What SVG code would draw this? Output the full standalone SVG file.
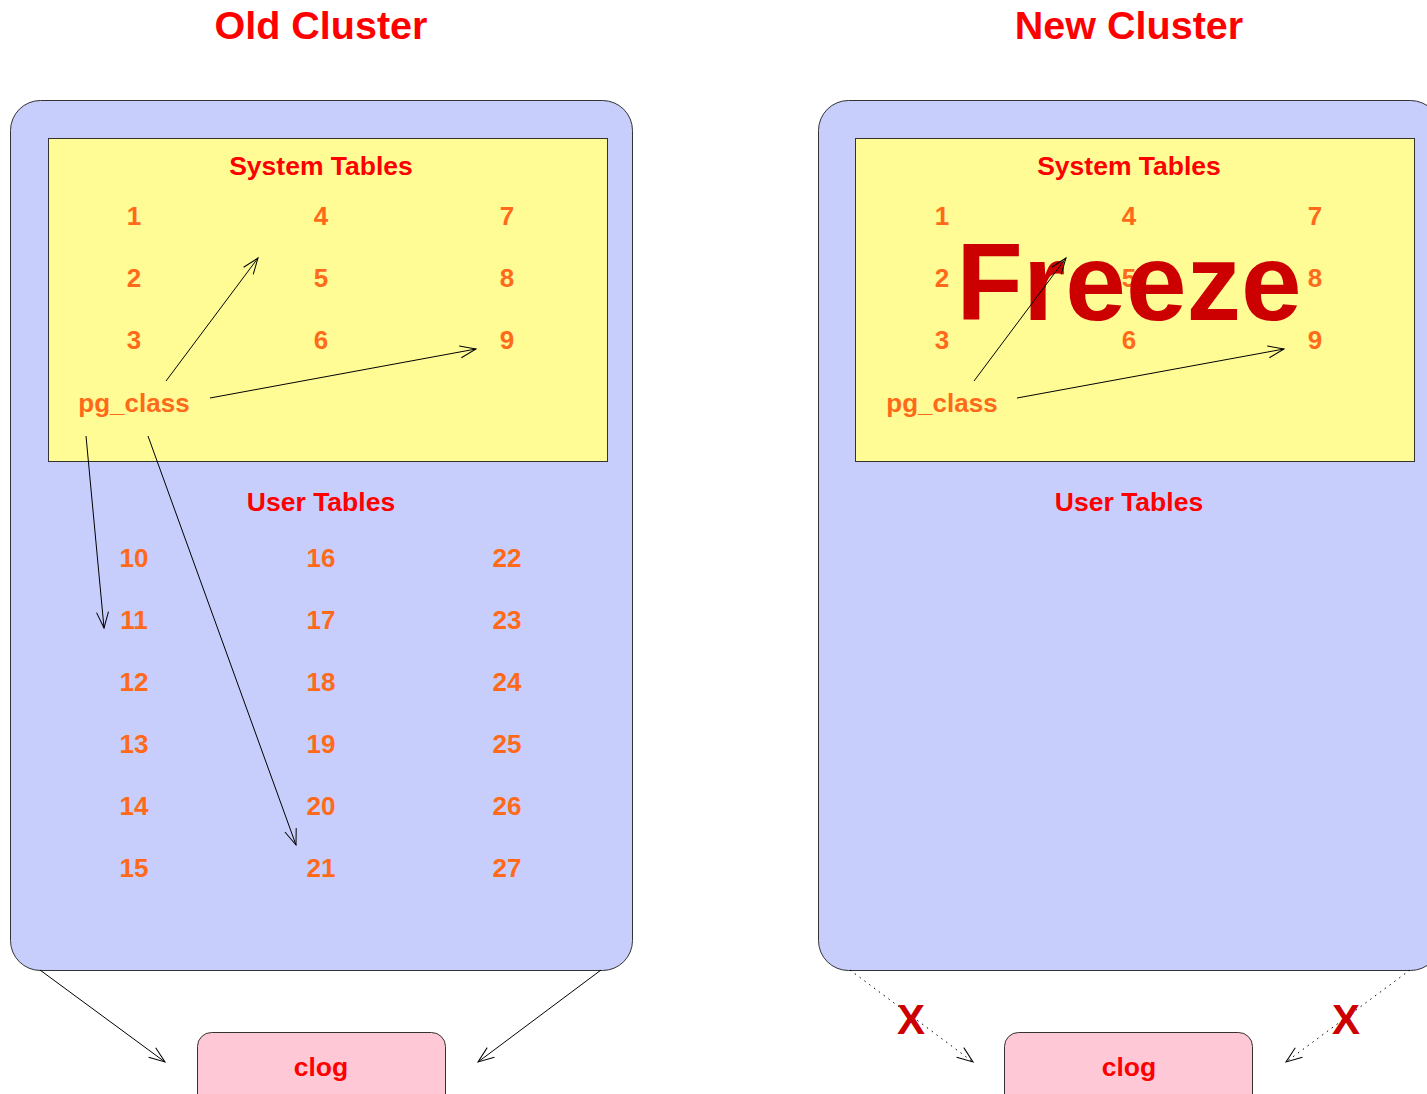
<svg xmlns="http://www.w3.org/2000/svg" width="1427" height="1094" viewBox="0 0 1427 1094">
<style>
text{font-family:"Liberation Sans",Arial,sans-serif;font-weight:bold;text-anchor:middle}
.title{font-size:39.5px;fill:#ff0000}
.hdr{font-size:26.5px;fill:#ff0000}
.num{font-size:26px;fill:#ff6a1a}
.cl{fill:#c8cefc;stroke:#333;stroke-width:1}
.sys{fill:#fffc96;stroke:#333;stroke-width:1}
.clog{fill:#ffc8d6;stroke:#333;stroke-width:1}
.con{stroke:#000;stroke-width:1;fill:none;marker-end:url(#ah)}
.dot{stroke-dasharray:1.5 4.5}
.big{fill:#cc0000}
</style>
<defs>
<marker id="ah" markerWidth="20" markerHeight="14" refX="18" refY="7" orient="auto" markerUnits="userSpaceOnUse">
<path d="M2,1 L18,7 L2,13" fill="none" stroke="#000" stroke-width="1" stroke-dasharray="none"/>
</marker>
</defs>
<g id="old-cluster">
<text class="title" x="321" y="39">Old Cluster</text>
<rect class="cl" x="10.5" y="100.5" width="622" height="870" rx="30"/>
<rect class="sys" x="48.5" y="138.5" width="559" height="323"/>
<text class="hdr" x="321" y="175">System Tables</text>
<text class="num" x="134" y="225">1</text><text class="num" x="321" y="225">4</text><text class="num" x="507" y="225">7</text>
<text class="num" x="134" y="287">2</text><text class="num" x="321" y="287">5</text><text class="num" x="507" y="287">8</text>
<text class="num" x="134" y="349">3</text><text class="num" x="321" y="349">6</text><text class="num" x="507" y="349">9</text>
<text class="num" x="134" y="412">pg_class</text>
<text class="hdr" x="321" y="511">User Tables</text>
<text class="num" x="134" y="567">10</text><text class="num" x="321" y="567">16</text><text class="num" x="507" y="567">22</text>
<text class="num" x="134" y="629">11</text><text class="num" x="321" y="629">17</text><text class="num" x="507" y="629">23</text>
<text class="num" x="134" y="691">12</text><text class="num" x="321" y="691">18</text><text class="num" x="507" y="691">24</text>
<text class="num" x="134" y="753">13</text><text class="num" x="321" y="753">19</text><text class="num" x="507" y="753">25</text>
<text class="num" x="134" y="815">14</text><text class="num" x="321" y="815">20</text><text class="num" x="507" y="815">26</text>
<text class="num" x="134" y="877">15</text><text class="num" x="321" y="877">21</text><text class="num" x="507" y="877">27</text>
</g>
<g id="old-clog">
<rect class="clog" x="197.5" y="1032.5" width="248" height="80" rx="14"/>
<text class="hdr" x="321" y="1076">clog</text>
</g>
<g id="new-cluster">
<text class="title" x="1129" y="39">New Cluster</text>
<rect class="cl" x="818.5" y="100.5" width="622" height="870" rx="30"/>
<rect class="sys" x="855.5" y="138.5" width="559" height="323"/>
<text class="hdr" x="1129" y="175">System Tables</text>
<text class="num" x="942" y="225">1</text><text class="num" x="1129" y="225">4</text><text class="num" x="1315" y="225">7</text>
<text class="num" x="942" y="287">2</text><text class="num" x="1129" y="287">5</text><text class="num" x="1315" y="287">8</text>
<text class="num" x="942" y="349">3</text><text class="num" x="1129" y="349">6</text><text class="num" x="1315" y="349">9</text>
<text class="num" x="942" y="412">pg_class</text>
<text class="hdr" x="1129" y="511">User Tables</text>
<text class="big" x="1129" y="320" style="font-size:109px">Freeze</text>
</g>
<g id="new-clog">
<rect class="clog" x="1004.5" y="1032.5" width="248" height="80" rx="14"/>
<text class="hdr" x="1129" y="1076">clog</text>
</g>
<g id="connectors">
<line class="con" x1="166" y1="381" x2="258" y2="258"/>
<line class="con" x1="210" y1="398" x2="476" y2="349"/>
<line class="con" x1="86" y1="436" x2="104" y2="628"/>
<line class="con" x1="148" y1="436" x2="296" y2="845"/>
<line class="con" x1="40" y1="970" x2="165" y2="1062"/>
<line class="con" x1="601" y1="970" x2="478" y2="1062"/>
<line class="con" x1="974" y1="381" x2="1066" y2="258"/>
<line class="con" x1="1017" y1="398" x2="1284" y2="349"/>
<line class="con dot" x1="850" y1="970" x2="973" y2="1062"/>
<line class="con dot" x1="1410" y1="970" x2="1286" y2="1062"/>
<text class="big" x="911" y="1034" style="font-size:42px">X</text>
<text class="big" x="1346" y="1034" style="font-size:42px">X</text>
</g>
</svg>
